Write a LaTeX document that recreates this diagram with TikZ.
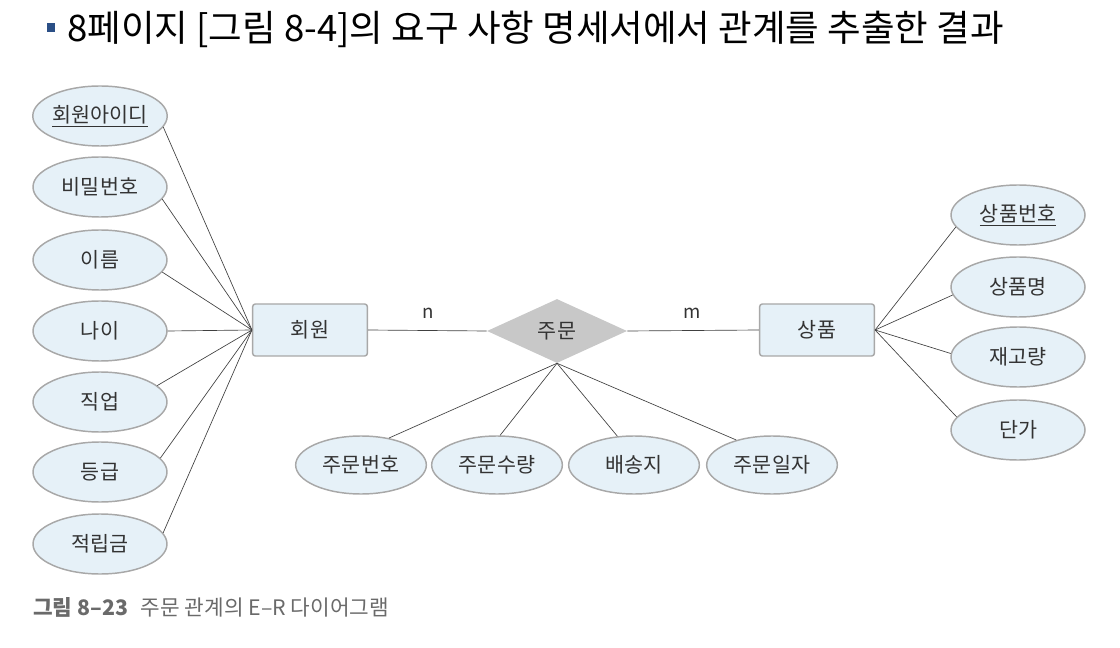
\documentclass[tikz,border=0pt]{standalone}
\usepackage{fontspec}
\setmainfont{Noto Sans CJK KR}
\usepackage{tikz,xcolor}
\usetikzlibrary{shapes.geometric}

\definecolor{attrfill}{HTML}{E6F1F8}
\definecolor{attrline}{HTML}{A8A8A8}
\definecolor{relfill}{HTML}{C8C8C8}
\definecolor{bulletblue}{HTML}{2B4F86}
\definecolor{captiongray}{HTML}{6A6A6A}
\definecolor{labelgray}{HTML}{333333}

\tikzset{
  attr/.style={ellipse,draw=attrline,fill=attrfill,line width=1.1pt,
    minimum width=100.5pt,minimum height=45pt,inner sep=0pt,
    text=labelgray,font=\fontsize{15.5}{18}\selectfont},
  entity/.style={rectangle,rounded corners=2pt,draw=attrline,fill=attrfill,
    line width=1.1pt,minimum width=86pt,minimum height=39pt,inner sep=0pt,
    text=labelgray,font=\fontsize{15.5}{18}\selectfont},
  rel/.style={diamond,fill=relfill,minimum width=105pt,minimum height=48pt,
    inner sep=0pt,text=labelgray,font=\fontsize{15.5}{18}\selectfont},
  link/.style={draw=black!75,line width=0.5pt},
  card/.style={text=labelgray,font=\fontsize{14}{16}\selectfont}
}

\begin{document}
\begin{tikzpicture}[x=0.75pt,y=-0.75pt]
  \useasboundingbox (0,0) rectangle (1120,648);

  % title
  \fill[bulletblue] (47,23) rectangle (55,32);
  \node[anchor=base west,inner sep=0pt,font=\fontsize{27.4}{31}\selectfont] (title) at (67,42)
    {8페이지 [그림 8-4]의 요구 사항 명세서에서 관계를 추출한 결과};

  % entities and relationship
  \node[entity] (member) at (310,330) {회원};
  \node[rel] (order) at (557,331) {주문};
  \node[entity] (product) at (817,330) {상품};

  % member attributes
  \node[attr] (mid) at (100,116) {\underline{회원아이디}};
  \node[attr] (mpw) at (100,187) {비밀번호};
  \node[attr] (mname) at (100,260) {이름};
  \node[attr] (mage) at (100,331) {나이};
  \node[attr] (mjob) at (100,402) {직업};
  \node[attr] (mgrade) at (100,472) {등급};
  \node[attr] (mpoint) at (100,544) {적립금};

  % order attributes
  \node[attr,minimum width=98pt,minimum height=43.5pt] (ono) at (361,465) {주문번호};
  \node[attr,minimum width=98pt,minimum height=43.5pt] (oqty) at (497,465) {주문수량};
  \node[attr,minimum width=98pt,minimum height=43.5pt] (oaddr) at (634,465) {배송지};
  \node[attr,minimum width=98pt,minimum height=43.5pt] (odate) at (772,465) {주문일자};

  % product attributes
  \node[attr] (pno) at (1018,215) {\underline{상품번호}};
  \node[attr] (pname) at (1018,287) {상품명};
  \node[attr] (pstock) at (1018,357) {재고량};
  \node[attr] (pprice) at (1018,430) {단가};

  % connectors
  \draw[link] (member.east) -- (order.west);
  \draw[link] (order.east) -- (product.west);
  \node[card] (n) at (428,313) {n};
  \node[card] (m) at (692,313) {m};

  \draw[link] (mid.-10) -- (member.west);
  \draw[link] (mpw.-11) -- (member.west);
  \draw[link] (mname.-11) -- (member.west);
  \draw[link] (mage.east) -- (member.west);
  \draw[link] (mjob.16) -- (member.west);
  \draw[link] (mgrade.13) -- (member.west);
  \draw[link] (mpoint.10) -- (member.west);

  \draw[link] (order.south) -- (ono.44);
  \draw[link] (order.south) -- (oqty.84);
  \draw[link] (order.south) -- (oaddr.120);
  \draw[link] (order.south) -- (odate.145);

  \draw[link] (product.east) -- (pno.191);
  \draw[link] (product.east) -- (pname.187);
  \draw[link] (product.east) -- (pstock.177);
  \draw[link] (product.east) -- (pprice.168);

  % caption
  \node[anchor=base west,inner sep=0pt,text=captiongray,font=\fontsize{16}{19}\selectfont] (caption) at (33,615)
    {\textbf{그림 8--23}\hspace{0.6em}주문 관계의 E--R 다이어그램};
\end{tikzpicture}
\end{document}
